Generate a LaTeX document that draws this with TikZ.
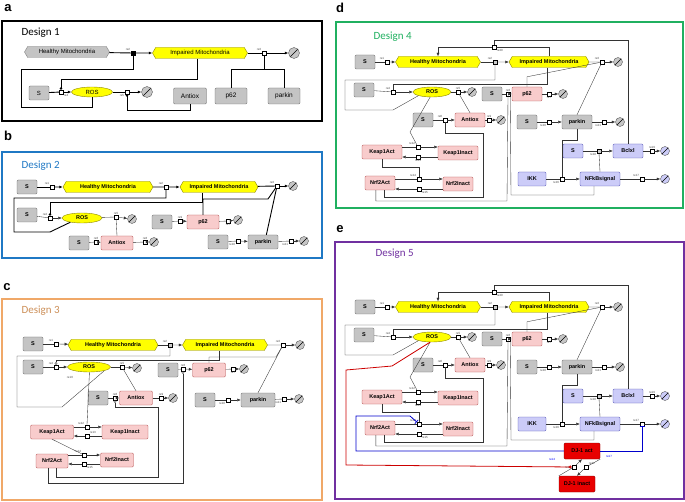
\documentclass[tikz,border=0pt]{standalone}
\usepackage{fontspec}
\setmainfont{Carlito}
\newfontfamily\arialfam{Liberation Sans}
\usetikzlibrary{shapes.symbols}
\usetikzlibrary{shapes.geometric}
\usetikzlibrary{arrows.meta}
\definecolor{mitoyel}{HTML}{FFFF00}
\definecolor{boxgray}{HTML}{C4C4C4}
\definecolor{boxpink}{HTML}{F8CCCC}
\definecolor{boxblue}{HTML}{CCCCF8}
\definecolor{djred}{HTML}{E80000}
\definecolor{frblue}{HTML}{1F78C4}
\definecolor{frorange}{HTML}{F0A868}
\definecolor{frgreen}{HTML}{20B060}
\definecolor{frpurple}{HTML}{7030A0}
\tikzset{my_net/.style={x=1pt,y=-1pt,>={Latex[length=3.5pt,width=3pt]},font=\arialfam\bfseries\fontsize{5.5}{6}\selectfont}}
\tikzset{my_box/.style={rectangle, rounded corners=1.2pt, draw=gray!80!black, minimum height=14, minimum width=30, inner sep=0.5pt}}
\tikzset{my_sbox/.style={my_box, fill=boxgray, minimum width=20}}
\tikzset{my_gbox/.style={my_box, fill=boxgray}}
\tikzset{my_pbox/.style={my_box, fill=boxpink, draw=red!40!gray}}
\tikzset{my_bbox/.style={my_box, fill=boxblue, draw=blue!40!gray}}
\tikzset{my_rbox/.style={my_box, fill=djred, draw=red!50!black, minimum width=36, minimum height=16}}
\tikzset{my_hex/.style={shape=signal, signal to=east and west, signal pointer angle=120, fill=mitoyel, draw=olive, minimum height=11, inner sep=0.5pt}}
\tikzset{my_ros/.style={ellipse, fill=mitoyel, draw=olive, minimum width=38, minimum height=10, inner sep=0pt}}
\tikzset{my_rx/.style={rectangle, draw, fill=white, minimum size=4, inner sep=0pt, thin}}
\tikzset{my_deg/.style={circle, draw=gray!70!black, fill=gray!45, minimum size=9, inner sep=0pt,
    path picture={\draw[black,thin] (path picture bounding box.south west) -- (path picture bounding box.north east);}}}
\tikzset{my_lab/.style={font=\arialfam\fontsize{3}{3}\selectfont, inner sep=0.5pt, text=gray!60!black}}
\tikzset{my_thick/.style={line width=0.9pt}}
\tikzset{my_thin/.style={line width=0.35pt, draw=gray!40!black}}
\tikzset{my_mod/.style={-{Circle[open,length=2.5pt]}}}
\tikzset{my_title/.style={anchor=west, font=\fontsize{11}{13}\selectfont}}
\tikzset{my_letter/.style={font=\arialfam\bfseries\fontsize{13}{15}\selectfont}}

% shared network of designs 4 and 5
\newcommand\mitonet{%
    \node[my_sbox] (S1) at (365,62) {S};
    \node[my_rx, label={[my_lab]above left:re1}] (R1) at (387,62) {};
    \node[my_hex, minimum width=85] (HM) at (438,62) {Healthy Mitochondria};
    \node[my_rx, fill=gray!40, label={[my_lab]above left:re2}] (R2) at (495,62) {};
    \node[my_hex, minimum width=80] (IM) at (549,62) {Impaired Mitochondria};
    \node[my_rx, label={[my_lab]above left:re3}] (R3) at (602,62) {};
    \node[my_deg] (D1) at (618,62) {};
    \node[my_rx, label={[my_lab]below right:re20}] (R20) at (494,47) {};
    \node[my_sbox] (S4) at (364,90) {S};
    \node[my_rx, label={[my_lab]above left:re4}] (R4) at (393,92) {};
    \node[my_ros] (ROS) at (432,92) {ROS};
    \node[my_rx, label={[my_lab]above:re5}] (R5) at (458,92) {};
    \node[my_deg] (D2) at (472,92) {};
    \node[my_sbox] (S6) at (492,94) {S};
    \node[my_rx, label={[my_lab]above:re6}] (R6) at (508,94) {};
    \node[my_pbox] (P62) at (527,94) {p62};
    \node[my_rx, label={[my_lab]below:re7}] (R7) at (549,94) {};
    \node[my_deg] (D3) at (563,94) {};
    \node[my_sbox] (S8) at (423,120) {S};
    \node[my_rx, label={[my_lab]above left:re8}] (R8) at (445,120) {};
    \node[my_pbox] (ANT) at (470,120) {Antiox};
    \node[my_rx, label={[my_lab]above:re9}] (R9) at (489,120) {};
    \node[my_deg] (D4) at (501,120) {};
    \node[my_sbox] (S10) at (527,122) {S};
    \node[my_rx, label={[my_lab]below left:re10}] (R10) at (549,122) {};
    \node[my_gbox] (PK) at (577,122) {parkin};
    \node[my_rx, label={[my_lab]below left:re11}] (R11) at (604,122) {};
    \node[my_deg] (D5) at (620,122) {};
    \node[my_pbox, minimum width=40] (KA) at (382,152) {Keap1Act};
    \node[my_pbox, minimum width=40] (KI) at (458,153) {Keap1Inact};
    \node[my_rx, label={[my_lab]above left:re12}] (R12) at (418,147) {};
    \node[my_rx, label={[my_lab]below:re13}] (R13) at (418,157) {};
    \node[my_pbox] (NA) at (380,183) {Nrf2Act};
    \node[my_pbox] (NI) at (458,184) {Nrf2Inact};
    \node[my_rx, label={[my_lab]above left:re14}] (R14) at (419,179) {};
    \node[my_rx, label={[my_lab]below right:re15}] (R15) at (419,189) {};
    \node[my_bbox, minimum width=20] (SB) at (573,151) {S};
    \node[my_rx, fill=gray!40, label={[my_lab]below left:re18}] (R18) at (599,151) {};
    \node[my_bbox] (BC) at (628,151) {Bclxl};
    \node[my_rx, label={[my_lab]above:re19}] (R19) at (652,151) {};
    \node[my_deg, fill=boxblue] (D6) at (665,151) {};
    \node[my_bbox, minimum width=28] (IKK) at (532,179) {IKK};
    \node[my_rx, label={[my_lab]below left:re16}] (R16) at (562,179) {};
    \node[my_bbox, minimum width=40] (NF) at (600,179) {NFkBsignal};
    \node[my_rx, label={[my_lab]above left:re17}] (R17) at (642,179) {};
    \node[my_deg, fill=boxblue] (D7) at (665,179) {};
    \draw[my_thin] (S1) -- (R1);  \draw[my_thin,->] (R1) -- (HM);
    \draw[my_thin] (HM) -- (R2);  \draw[my_thin,->] (R2) -- (IM);
    \draw[my_thin] (IM) -- (R3);  \draw[my_thin,->] (R3) -- (D1);
    \draw[my_thin] (IM.north) |- (R20);  \draw[my_thin,->] (R20) -| (HM.north);
    \draw[my_thin] (BC.north) |- (494,40) -- (R20.north);
    \draw[my_thin] (S4) -- (R4);  \draw[my_thin,->] (R4) -- (ROS);
    \draw[my_thin] (ROS) -- (R5);  \draw[my_thin,->] (R5) -- (D2);
    \draw[my_thin] (S6) -- (R6);  \draw[my_thin,->] (R6) -- (P62);
    \draw[my_thin] (P62) -- (R7);  \draw[my_thin,->] (R7) -- (D3);
    \draw[my_thin] (S8) -- (R8);  \draw[my_thin,->] (R8) -- (ANT);
    \draw[my_thin] (ANT) -- (R9);  \draw[my_thin,->] (R9) -- (D4);
    \draw[my_thin] (S10) -- (R10);  \draw[my_thin,->] (R10) -- (PK);
    \draw[my_thin] (PK) -- (R11);  \draw[my_thin,->] (R11) -- (D5);
    \draw[my_thin] (KA.east |- R12) -- (R12);  \draw[my_thin,->] (R12) -- (KI.west |- R12);
    \draw[my_thin] (KI.west |- R13) -- (R13);  \draw[my_thin,->] (R13) -- (KA.east |- R13);
    \draw[my_thin] (NA.east |- R14) -- (R14);  \draw[my_thin,->] (R14) -- (NI.west |- R14);
    \draw[my_thin] (NI.west |- R15) -- (R15);  \draw[my_thin,->] (R15) -- (NA.east |- R15);
    \draw[my_thin] (SB) -- (R18);  \draw[my_thin,->] (R18) -- (BC);
    \draw[my_thin] (BC) -- (R19);  \draw[my_thin,->] (R19) -- (D6);
    \draw[my_thin] (IKK) -- (R16);  \draw[my_thin,->] (R16) -- (NF);
    \draw[my_thin] (NF) -- (R17);  \draw[my_thin,->] (R17) -- (D7);
    \draw[my_thin] (ROS.south west) -- (393,110) -| (345,80) -| (R2.south);
    \draw[my_thin] (IM.250) |- (393,84) -- (R4.north);
    \draw[my_thin] (ANT.north) -- (R5);
    \draw[my_thin] (P62.north) -- ++(0,-10) -- (R3);
    \draw[my_thin] (PK.north) -- (R3);
    \draw[my_thin] (ROS.250) -- (410,132) -- (R12);
    \draw[my_thin] (KA.south) -- ++(0,8) -| (R14.north);
    \draw[my_thin] (NA.300) |- (483,197) |- (445,133) -- (R8.south);
    \draw[my_thin] (NA.240) |- (507,201) -- (R6.south);
    \draw[my_thin] (NF.230) |- (511,195) -- (R6.south east);
    \draw[my_thin] (PK.south) |- (562,140) -- (R16.north);
    \draw[my_thin] (NF.north) -- (R18.south);
}

\begin{document}
\begin{tikzpicture}[my_net]
    \useasboundingbox (0,0) rectangle (685,502);
    %%% a
    \node[my_letter] (La) at (8,8) {a};
    \draw[line width=2pt] (2,21) rectangle (322,121);
    \node[my_title] (Ta) at (18,33) {Design 1};
    \node[my_hex, fill=boxgray, draw=gray, minimum width=85, font=\arialfam\fontsize{6}{7}\selectfont] (aHM) at (67,52) {Healthy Mitochondria};
    \node[my_rx, fill=black, label={[my_lab]above left:re2}] (aR2) at (133,53) {};
    \node[my_hex, minimum width=95, font=\arialfam\fontsize{6}{7}\selectfont] (aIM) at (200,53) {Impaired Mitochondria};
    \node[my_rx, label={[my_lab]above left:re3}] (aR3) at (264,53) {};
    \node[my_deg, minimum size=11] (aD1) at (294,53) {};
    \node[my_sbox, font=\arialfam\fontsize{6}{7}\selectfont] (aS) at (39,93) {S};
    \node[my_rx, label={[my_lab]below right:re4}] (aR4) at (61,92) {};
    \node[my_ros, minimum width=41, font=\arialfam\fontsize{6}{7}\selectfont] (aROS) at (92,92) {ROS};
    \node[my_rx, label={[my_lab]below left:re5}] (aR5) at (127,92) {};
    \node[my_deg, minimum size=11] (aD2) at (147,92) {};
    \node[my_gbox, minimum width=33, minimum height=16, font=\arialfam\fontsize{6.5}{7}\selectfont] (aANT) at (190,96) {Antiox};
    \node[my_gbox, minimum width=32, minimum height=16, font=\arialfam\fontsize{6.5}{7}\selectfont] (aP62) at (231,96) {p62};
    \node[my_gbox, minimum width=32, minimum height=16, font=\arialfam\fontsize{6.5}{7}\selectfont] (aPK) at (284,96) {parkin};
    \draw[my_thick] (aHM) -- (aR2);  \draw[my_thick,->] (aR2) -- (aIM);
    \draw[my_thick] (aIM) -- (aR3);  \draw[my_thick,->] (aR3) -- (aD1);
    \draw[my_thick] (aS) -- (aR4);  \draw[my_thick,->] (aR4) -- (aROS);
    \draw[my_thick] (aROS) -- (aR5);  \draw[my_thick,->] (aR5) -- (aD2);
    \draw[my_thick] (aROS.south) |- (21,107) |- (133,69) -- (aR2.south);
    \draw[my_thick,my_mod] (aIM.250) |- (61,79) -- (aR4.north);
    \draw[my_thick,my_mod] (aANT.south) |- (127,110) -- (aR5.south);
    \draw[my_thick] (aP62.north) |- (264,69);
    \draw[my_thick] (aPK.north) |- (264,69) -- (aR3.south);
    %%% b
    \node[my_letter] (Lb) at (8,136) {b};
    \draw[frblue, line width=1.6pt] (2,152) rectangle (322,258);
    \node[my_title, text=frblue] (Tb) at (18,166) {Design 2};
    \node[my_sbox] (bS1) at (27,187) {S};
    \node[my_rx, label={[my_lab]above left:re1}] (bR1) at (52,187) {};
    \node[my_hex, minimum width=90] (bHM) at (108,187) {Healthy Mitochondria};
    \node[my_rx, label={[my_lab]above left:re2}] (bR2) at (166,187) {};
    \node[my_hex, minimum width=78] (bIM) at (219,187) {Impaired Mitochondria};
    \node[my_rx, label={[my_lab]above left:re3}] (bR3) at (277,186) {};
    \node[my_deg] (bD1) at (293,186) {};
    \node[my_sbox] (bS4) at (27,215) {S};
    \node[my_rx, label={[my_lab]above left:re4}] (bR4) at (50,218) {};
    \node[my_ros, minimum width=40] (bROS) at (82,218) {ROS};
    \node[my_rx, label={[my_lab]above:re5}] (bR5) at (116,217) {};
    \node[my_deg] (bD2) at (132,219) {};
    \node[my_sbox] (bS6) at (79,243) {S};
    \node[my_rx, label={[my_lab]above:re6}] (bR6) at (96,242) {};
    \node[my_pbox, minimum width=32] (bANT) at (117,243) {Antiox};
    \node[my_rx, label={[my_lab]above:re8}] (bR8) at (145,242) {};
    \node[my_deg] (bD3) at (154,242) {};
    \node[my_sbox] (bS9) at (162,222) {S};
    \node[my_rx, label={[my_lab]above:re9}] (bR9) at (180,221) {};
    \node[my_pbox, minimum width=32] (bP62) at (203,222) {p62};
    \node[my_rx, label={[my_lab]below:re7}] (bR7) at (228,221) {};
    \node[my_deg] (bD4) at (238,220) {};
    \node[my_sbox] (bS10) at (218,242) {S};
    \node[my_rx, label={[my_lab]below left:re10}] (bR10) at (238,241) {};
    \node[my_gbox] (bPK) at (263,242) {parkin};
    \node[my_rx, label={[my_lab]below left:re11}] (bR11) at (291,241) {};
    \node[my_deg] (bD5) at (304,241) {};
    \draw[my_thick] (bS1) -- (bR1);  \draw[my_thick,->] (bR1) -- (bHM);
    \draw[my_thick] (bHM) -- (bR2);  \draw[my_thick,->] (bR2) -- (bIM);
    \draw[my_thick] (bIM) -- (bR3);  \draw[my_thick,->] (bR3) -- (bD1);
    \draw[my_thin] (bS4) -- (bR4);  \draw[my_thin,->] (bR4) -- (bROS);
    \draw[my_thin] (bROS) -- (bR5);  \draw[my_thin,->] (bR5) -- (bD2);
    \draw[my_thin] (bS6) -- (bR6);  \draw[my_thin,->] (bR6) -- (bANT);
    \draw[my_thin] (bANT) -- (bR8);  \draw[my_thin,->] (bR8) -- (bD3);
    \draw[my_thin] (bS9) -- (bR9);  \draw[my_thin,->] (bR9) -- (bP62);
    \draw[my_thin] (bP62) -- (bR7);  \draw[my_thin,->] (bR7) -- (bD4);
    \draw[my_thin] (bS10) -- (bR10);  \draw[my_thin,->] (bR10) -- (bPK);
    \draw[my_thin] (bPK) -- (bR11);  \draw[my_thin,->] (bR11) -- (bD5);
    \draw[my_thick] (bROS.200) -- (50,232) -- (14,232) -- (14,198) -| (bR2.south);
    \draw[my_thick,my_mod] (202,193) -- (202,202) -| (bR4.north);
    \draw[my_thick] (bP62.north) |- (268,199) -- (bR3);
    \draw[my_thick] (bPK.65) -- (bR3);
    \draw[my_thin] (bANT.north) -- (bR5);
    %%% c
    \node[my_letter] (Lc) at (7,287) {c};
    \draw[frorange, line width=1.6pt] (2,299) rectangle (322,500);
    \node[my_title, text=frorange!85!black] (Tc) at (18,311) {Design 3};
    \node[my_sbox] (cS1) at (33,344) {S};
    \node[my_rx, label={[my_lab]above left:re1}] (cR1) at (56,344) {};
    \node[my_hex, minimum width=90] (cHM) at (113,345) {Healthy Mitochondria};
    \node[my_rx, fill=gray!40, label={[my_lab]above left:re2}] (cR2) at (170,345) {};
    \node[my_hex, minimum width=85] (cIM) at (225,345) {Impaired Mitochondria};
    \node[my_rx, label={[my_lab]above left:re3}] (cR3) at (283,345) {};
    \node[my_deg] (cD1) at (300,345) {};
    \node[my_sbox] (cS4) at (33,367) {S};
    \node[my_rx, label={[my_lab]above left:re4}] (cR4) at (56,367) {};
    \node[my_ros, minimum width=43] (cROS) at (89,367) {ROS};
    \node[my_rx, label={[my_lab]above:re5}] (cR5) at (122,367) {};
    \node[my_deg] (cD2) at (137,368) {};
    \node[my_sbox] (cS6) at (168,370) {S};
    \node[my_rx, label={[my_lab]above:re6}] (cR6) at (183,369) {};
    \node[my_pbox, minimum width=33] (cP62) at (209,370) {p62};
    \node[my_rx, label={[my_lab]below:re7}] (cR7) at (233,369) {};
    \node[my_deg] (cD3) at (244,369) {};
    \node[my_sbox] (cS8) at (98,398) {S};
    \node[my_rx, label={[my_lab]above:re8}] (cR8) at (115,398) {};
    \node[my_pbox, minimum width=33] (cANT) at (136,398) {Antiox};
    \node[my_rx, label={[my_lab]above:re9}] (cR9) at (161,398) {};
    \node[my_deg] (cD4) at (173,398) {};
    \node[my_sbox] (cS10) at (205,400) {S};
    \node[my_rx, label={[my_lab]below left:re10}] (cR10) at (228,400) {};
    \node[my_gbox, minimum width=34] (cPK) at (258,400) {parkin};
    \node[my_rx, label={[my_lab]below left:re11}] (cR11) at (284,399) {};
    \node[my_deg] (cD5) at (299,399) {};
    \node[my_pbox, minimum width=43] (cKA) at (52,432) {Keap1Act};
    \node[my_pbox, minimum width=46] (cKI) at (125,432) {Keap1Inact};
    \node[my_rx, label={[my_lab]above left:re12}] (cR12) at (87,427) {};
    \node[my_rx, label={[my_lab]above right:re13}] (cR13) at (87,436) {};
    \node[my_pbox, minimum width=32] (cNA) at (52,461) {Nrf2Act};
    \node[my_pbox, minimum width=33] (cNI) at (117,460) {Nrf2Inact};
    \node[my_rx, label={[my_lab]above left:re14}] (cR14) at (84,455) {};
    \node[my_rx, label={[my_lab]below right:re15}] (cR15) at (84,464) {};
    \draw[my_thin] (cS1) -- (cR1);  \draw[my_thin,->] (cR1) -- (cHM);
    \draw[my_thin] (cHM) -- (cR2);  \draw[my_thin,->] (cR2) -- (cIM);
    \draw[my_thin] (cIM) -- (cR3);  \draw[my_thin,->] (cR3) -- (cD1);
    \draw[my_thin] (cS4) -- (cR4);  \draw[my_thin,->] (cR4) -- (cROS);
    \draw[my_thin] (cROS) -- (cR5);  \draw[my_thin,->] (cR5) -- (cD2);
    \draw[my_thin] (cS6) -- (cR6);  \draw[my_thin,->] (cR6) -- (cP62);
    \draw[my_thin] (cP62) -- (cR7);  \draw[my_thin,->] (cR7) -- (cD3);
    \draw[my_thin] (cS8) -- (cR8);  \draw[my_thin,->] (cR8) -- (cANT);
    \draw[my_thin] (cANT) -- (cR9);  \draw[my_thin,->] (cR9) -- (cD4);
    \draw[my_thin] (cS10) -- (cR10);  \draw[my_thin,->] (cR10) -- (cPK);
    \draw[my_thin] (cPK) -- (cR11);  \draw[my_thin,->] (cR11) -- (cD5);
    \draw[my_thin] (cKA.east |- cR12) -- (cR12);  \draw[my_thin,->] (cR12) -- (cKI.west |- cR12);
    \draw[my_thin] (cKI.west |- cR13) -- (cR13);  \draw[my_thin,->] (cR13) -- (cKA.east |- cR13);
    \draw[my_thin] (cNA.east |- cR14) -- (cR14);  \draw[my_thin,->] (cR14) -- (cNI.west |- cR14);
    \draw[my_thin] (cNI.west |- cR15) -- (cR15);  \draw[my_thin,->] (cR15) -- (cNA.east |- cR15);
    \draw[my_thin] (cROS.south east) -- (62,407) -- (17,407) -- (17,356) -| (cR2.south);
    \node[my_lab] (cL10) at (70,377) {re10};
    \draw[my_thin,my_mod] (cIM.225) |- (56,360) -- (cR4.north);
    \draw[my_thin] (cP62.north) |- (276,357) -- (cR3);
    \draw[my_thin] (cPK.north) -- (cR3);
    \draw[my_thin] (cANT.north) -- (cR5);
    \draw[my_thin] (cROS.275) -- (cR12.north);
    \draw[my_thin] (cKA.south) -- (cR14);
    \draw[my_thin,my_mod] (cNA.300) |- (158,477) |- (115,407) -- (cR8.south);
    \draw[my_thin,my_mod] (cNA.240) |- (183,483) -- (cR6.south);
    %%% d
    \node[my_letter] (Ld) at (340,8) {d};
    \draw[frgreen, line width=1.6pt] (336,22) rectangle (683,208);
    \node[my_title, text=frgreen] (Td) at (370,37) {Design 4};
    \begin{scope}[name prefix=d-]
        \mitonet
    \end{scope}
    %%% e
    \node[my_letter] (Le) at (340,229) {e};
    \draw[frpurple, line width=1.6pt] (335,242) rectangle (684,499);
    \node[my_title, text=frpurple] (Te) at (372,254) {Design 5};
    \begin{scope}[shift={(0,245)}, name prefix=e-]
        \mitonet
    \end{scope}
    \node[my_rbox] (e-DJa) at (582,451) {DJ-1 act};
    \node[my_rbox] (e-DJi) at (577,484) {DJ-1 inact};
    \node[my_rx, label={[my_lab]left:re21}] (e-R21) at (574,467) {};
    \node[my_rx, label={[my_lab]above right:re22}] (e-R22) at (586,467) {};
    \draw[my_thin] (e-DJi.north west) -- (e-R21);  \draw[my_thin,->] (e-R21) -- (e-DJa.south);
    \draw[my_thin] (e-DJa.south east) -- (e-R22);  \draw[my_thin,->] (e-R22) -- (e-DJi.north);
    \draw[red!80!black, line width=0.8pt, -{Circle[open,length=3pt]}] (e-ROS.250) -- (392,366) -- (346,370) -- (346,465) -- (e-R21.west);
    \draw[blue!80!black, line width=0.8pt, -{Bar[width=5pt]}] (e-DJa.west) -| (356,416) -- (410,416) -- (e-R14);
    \draw[blue!80!black, line width=0.8pt, -{Bar[width=5pt]}] (e-DJa.east) -| (e-R17.south);
    \node[my_lab, text=blue] (eL14) at (552,459) {re14};
    \node[my_lab, text=blue] (eL17) at (609,456) {re17};
\end{tikzpicture}
\end{document}
